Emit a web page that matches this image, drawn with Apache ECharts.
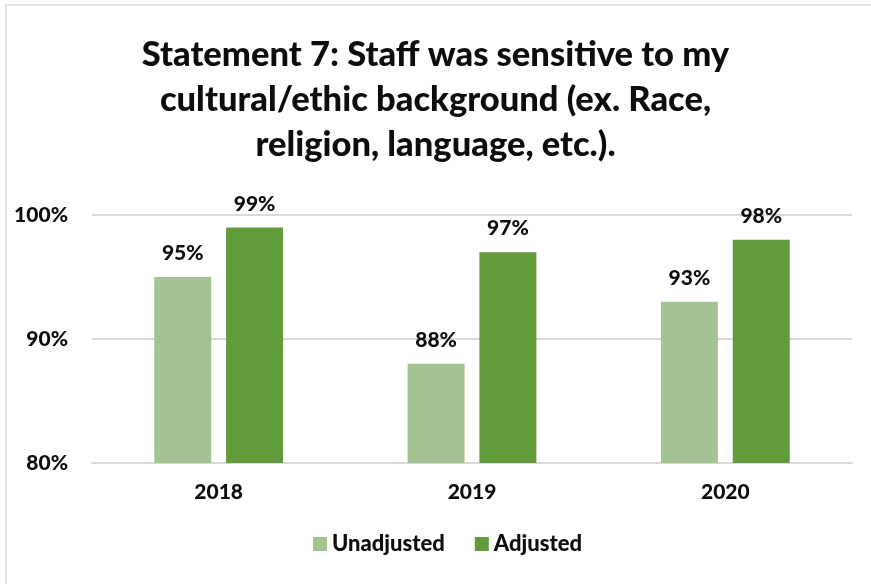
<!DOCTYPE html>
<html><head><meta charset="utf-8">
<script src="https://cdn.jsdelivr.net/npm/echarts@6/dist/echarts.min.js"></script>
<style>html,body{margin:0;padding:0;background:#fff}#c{width:871px;height:584px}</style>
</head><body><div id="c"></div>
<script>
const categories = ['2018', '2019', '2020'];
const unadjusted = [95, 88, 93];
const adjusted = [99, 97, 98];
const yTicks = [80, 90, 100];
const titleText = 'Statement 7: Staff was sensitive to my\ncultural/ethic background (ex. Race,\nreligion, language, etc.).';

const FONT = 'Lato';
const LBL = 21;
const W = 900;
const chart = echarts.init(document.getElementById('c'));
chart.setOption({
  animation: false,
  textStyle: { fontFamily: FONT },
  graphic: [{ type: 'rect', shape: { x: 6, y: 5, width: 870, height: 590 }, style: { fill: 'none', stroke: '#d9d9d9', lineWidth: 1.5 }, silent: true }],
  title: {
    text: titleText, left: 'center', top: 27,
    textStyle: { fontFamily: FONT, fontWeight: W, fontSize: 34.5, lineHeight: 45, color: '#0d0d0d' }
  },
  legend: {
    data: ['Unadjusted', 'Adjusted'], bottom: 24, left: 308, itemWidth: 14, itemHeight: 14, itemGap: 30,
    textStyle: { fontFamily: FONT, fontWeight: W, fontSize: 22, color: '#0d0d0d' }, icon: 'rect'
  },
  grid: { left: 92, right: 19, top: 215, bottom: 121 },
  xAxis: {
    type: 'category', data: categories,
    axisLine: { lineStyle: { color: '#d9d9d9', width: 2 } }, axisTick: { show: false },
    axisLabel: { fontFamily: FONT, fontWeight: W, fontSize: LBL, color: '#0d0d0d', margin: 19 }
  },
  yAxis: {
    type: 'value', min: yTicks[0], max: yTicks[yTicks.length - 1], interval: 10,
    axisLabel: { formatter: '{value}%', fontFamily: FONT, fontWeight: W, fontSize: LBL, color: '#0d0d0d', margin: 24 },
    splitLine: { lineStyle: { color: '#d9d9d9', width: 2 } }, axisLine: { show: false }, axisTick: { show: false }
  },
  series: [
    { name: 'Unadjusted', type: 'bar', data: unadjusted, barWidth: 57, barGap: '26%', itemStyle: { color: '#a3c490' },
      label: { show: true, position: 'top', distance: 13, formatter: '{c}%', fontFamily: FONT, fontWeight: W, fontSize: LBL, color: '#0d0d0d' } },
    { name: 'Adjusted', type: 'bar', data: adjusted, barWidth: 57, itemStyle: { color: '#629a3e' },
      label: { show: true, position: 'top', distance: 13, formatter: '{c}%', fontFamily: FONT, fontWeight: W, fontSize: LBL, color: '#0d0d0d' } }
  ]
});
</script></body></html>
